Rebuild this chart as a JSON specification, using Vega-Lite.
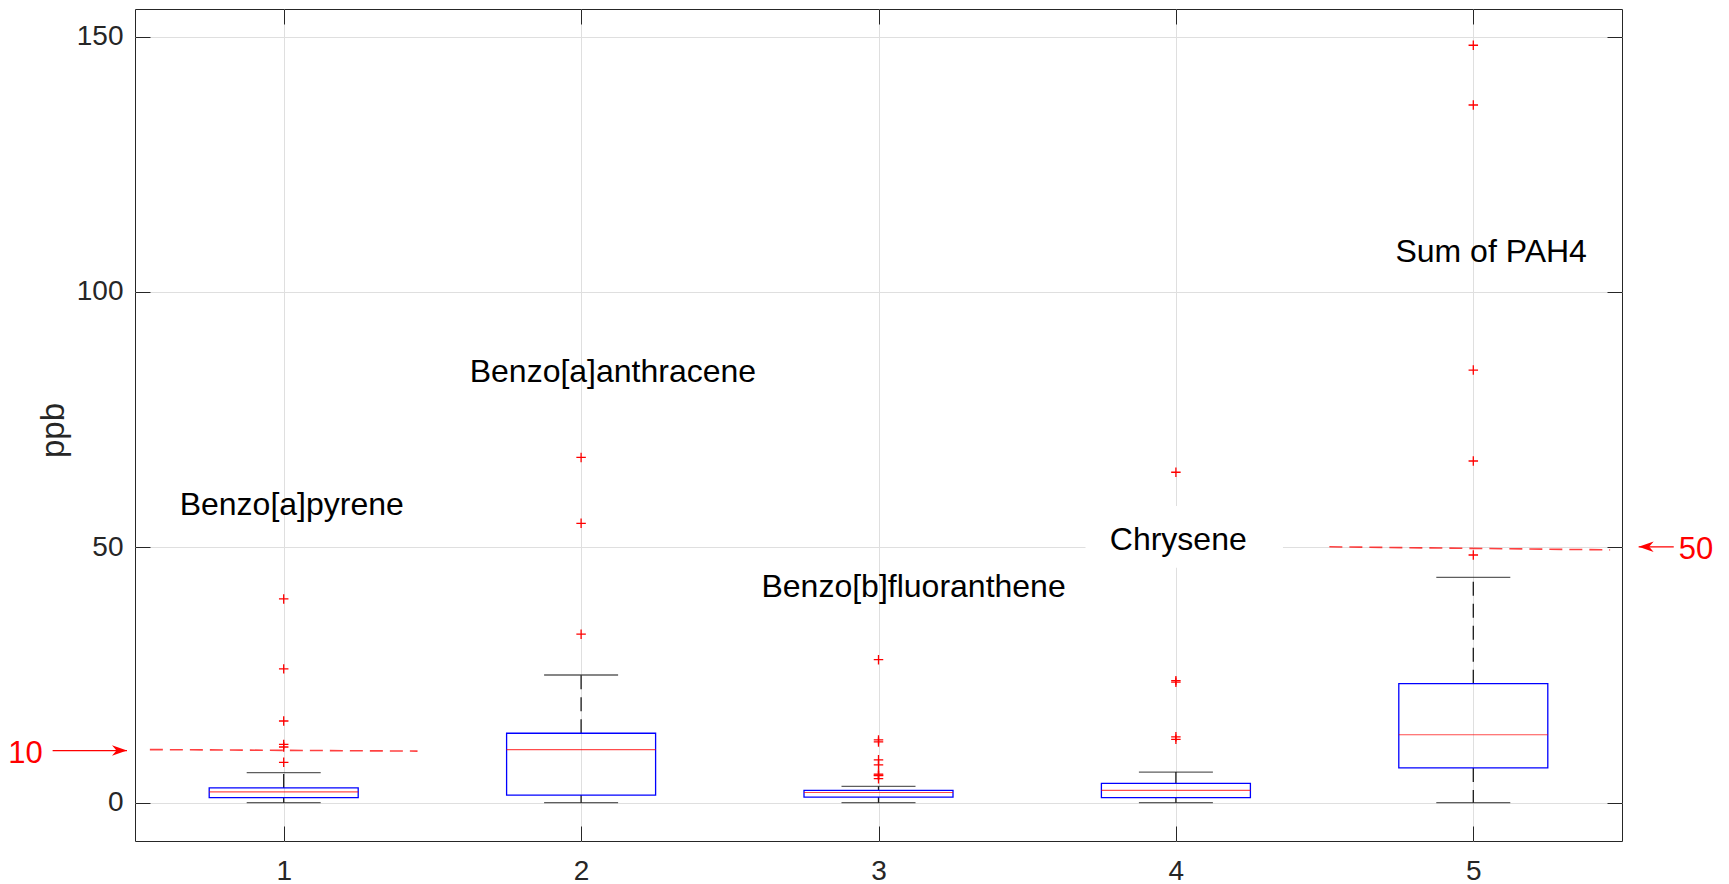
{
  "$schema": "https://vega.github.io/schema/vega-lite/v6.json",
  "width": 1487,
  "height": 832,
  "autosize": {"type": "none"},
  "padding": {"left": 135, "top": 9, "right": 107, "bottom": 43},
  "background": "white",
  "config": {
    "font": "Liberation Sans",
    "view": {"stroke": "#262626", "strokeWidth": 1},
    "axis": {
      "labelFont": "Liberation Sans",
      "titleFont": "Liberation Sans",
      "labelColor": "#262626",
      "titleColor": "#262626",
      "tickColor": "#262626",
      "gridColor": "#dfdfdf",
      "gridWidth": 1,
      "domain": false
    }
  },
  "datasets": {
    "boxes": [
      {"pos": 1, "lower": 0, "q1": 1.0, "median": 2.1, "q3": 2.9, "upper": 5.9},
      {"pos": 2, "lower": 0, "q1": 1.5, "median": 10.4, "q3": 13.6, "upper": 25.0},
      {"pos": 3, "lower": 0, "q1": 1.1, "median": 2.0, "q3": 2.4, "upper": 3.2},
      {"pos": 4, "lower": 0, "q1": 1.0, "median": 2.4, "q3": 3.8, "upper": 6.0},
      {"pos": 5, "lower": 0, "q1": 6.8, "median": 13.3, "q3": 23.3, "upper": 44.1}
    ],
    "outliers": [
      {"pos": 1, "v": 39.9}, {"pos": 1, "v": 26.2}, {"pos": 1, "v": 16.0}, {"pos": 1, "v": 11.4}, {"pos": 1, "v": 10.9}, {"pos": 1, "v": 7.9},
      {"pos": 2, "v": 67.6}, {"pos": 2, "v": 54.7}, {"pos": 2, "v": 33.0},
      {"pos": 3, "v": 28.0}, {"pos": 3, "v": 12.3}, {"pos": 3, "v": 11.9}, {"pos": 3, "v": 8.4}, {"pos": 3, "v": 7.4}, {"pos": 3, "v": 5.6}, {"pos": 3, "v": 5.4}, {"pos": 3, "v": 5.3}, {"pos": 3, "v": 4.7},
      {"pos": 4, "v": 64.7}, {"pos": 4, "v": 23.9}, {"pos": 4, "v": 23.6}, {"pos": 4, "v": 12.9}, {"pos": 4, "v": 12.4},
      {"pos": 5, "v": 148.3}, {"pos": 5, "v": 136.6}, {"pos": 5, "v": 84.7}, {"pos": 5, "v": 66.9}, {"pos": 5, "v": 48.5}
    ],
    "limits": [
      {"x": 0.55, "x2": 1.45, "y": 10.4, "y2": 10.1},
      {"x": 4.516, "x2": 5.46, "y": 50.1, "y2": 49.5}
    ],
    "arrows": [
      {"label": "10", "tail": 0.223, "tip": 0.473, "y": 10.2, "tx": 0.132, "ty": 7.7},
      {"label": "50", "tail": 5.674, "tip": 5.556, "y": 50.1, "tx": 5.749, "ty": 47.7}
    ],
    "names": [
      {"text": "Benzo[a]pyrene", "x": 1.027, "y": 56.3},
      {"text": "Benzo[a]anthracene", "x": 2.107, "y": 82.3},
      {"text": "Benzo[b]fluoranthene", "x": 3.118, "y": 40.2},
      {"text": "Chrysene", "x": 4.008, "y": 49.5},
      {"text": "Sum of PAH4", "x": 5.06, "y": 105.8}
    ],
    "labelbg": [
      {"x": 3.696, "x2": 4.36, "y": 46.0, "y2": 58.1}
    ]
  },
  "resolve": {"axis": {"x": "independent", "y": "independent"}},
  "layer": [
    {
      "data": {"name": "boxes"},
      "mark": {"type": "rule", "color": "#1a1a1a", "strokeWidth": 1.3, "strokeDash": [14, 8]},
      "encoding": {
        "x": {
          "field": "pos", "type": "quantitative",
          "scale": {"domain": [0.5, 5.5], "nice": false, "zero": false, "padding": 0},
          "axis": {
            "orient": "bottom", "values": [1, 2, 3, 4, 5], "title": null,
            "grid": true, "tickSize": -15, "labelPadding": 31,
            "labelFontSize": 28, "labelAngle": 0
          }
        },
        "y": {
          "field": "q3", "type": "quantitative",
          "scale": {"domain": [-7.5, 155.4], "nice": false, "zero": false, "padding": 0},
          "axis": {
            "orient": "left", "values": [0, 50, 100, 150], "title": "ppb",
            "grid": true, "tickSize": -15, "labelPadding": 27,
            "labelFontSize": 28, "titleFontSize": 33, "titleFontWeight": "normal",
            "titleX": -82, "titleY": 421, "titleAngle": -90,
            "titleAlign": "center", "titleBaseline": "middle"
          }
        },
        "y2": {"field": "upper"}
      }
    },
    {
      "data": {"name": "boxes"},
      "mark": {"type": "rule", "color": "#1a1a1a", "strokeWidth": 1.3, "strokeDash": [14, 8]},
      "encoding": {
        "x": {"field": "pos", "type": "quantitative", "axis": null},
        "y": {"field": "q1", "type": "quantitative", "axis": null},
        "y2": {"field": "lower"}
      }
    },
    {
      "data": {"name": "labelbg"},
      "mark": {"type": "rect", "fill": "white", "stroke": null},
      "encoding": {
        "x": {"field": "x", "type": "quantitative", "axis": null},
        "x2": {"field": "x2"},
        "y": {"field": "y", "type": "quantitative", "axis": null},
        "y2": {"field": "y2"}
      }
    },
    {
      "data": {"name": "boxes"},
      "mark": {"type": "bar", "width": 149, "fill": "transparent", "stroke": "#0000ff", "strokeWidth": 1.3},
      "encoding": {
        "x": {"field": "pos", "type": "quantitative", "axis": null},
        "y": {"field": "q1", "type": "quantitative", "axis": null},
        "y2": {"field": "q3"}
      }
    },
    {
      "data": {"name": "boxes"},
      "mark": {"type": "tick", "orient": "horizontal", "size": 149, "thickness": 1.2, "color": "#ff0000"},
      "encoding": {
        "x": {"field": "pos", "type": "quantitative", "axis": null},
        "y": {"field": "median", "type": "quantitative", "axis": null}
      }
    },
    {
      "data": {"name": "boxes"},
      "mark": {"type": "tick", "orient": "horizontal", "size": 74, "thickness": 1.3, "color": "#1a1a1a"},
      "encoding": {
        "x": {"field": "pos", "type": "quantitative", "axis": null},
        "y": {"field": "upper", "type": "quantitative", "axis": null}
      }
    },
    {
      "data": {"name": "boxes"},
      "mark": {"type": "tick", "orient": "horizontal", "size": 74, "thickness": 1.3, "color": "#1a1a1a"},
      "encoding": {
        "x": {"field": "pos", "type": "quantitative", "axis": null},
        "y": {"field": "lower", "type": "quantitative", "axis": null}
      }
    },
    {
      "data": {"name": "outliers"},
      "mark": {"type": "point", "shape": "M-1,0H1M0,-1V1", "size": 90, "filled": false, "stroke": "#ff0000", "strokeWidth": 1.3, "opacity": 1},
      "encoding": {
        "x": {
          "field": "pos", "type": "quantitative",
          "axis": {"orient": "top", "values": [1, 2, 3, 4, 5], "labels": false, "grid": false, "tickSize": -15, "title": null}
        },
        "y": {
          "field": "v", "type": "quantitative",
          "axis": {"orient": "right", "values": [0, 50, 100, 150], "labels": false, "grid": false, "tickSize": -15, "title": null}
        }
      }
    },
    {
      "data": {"name": "limits"},
      "mark": {"type": "rule", "color": "#ff0000", "opacity": 0.75, "strokeWidth": 1.6, "strokeDash": [13, 7]},
      "encoding": {
        "x": {"field": "x", "type": "quantitative", "axis": null},
        "x2": {"field": "x2"},
        "y": {"field": "y", "type": "quantitative", "axis": null},
        "y2": {"field": "y2"}
      }
    },
    {
      "data": {"name": "arrows"},
      "mark": {"type": "rule", "color": "#ff0000", "strokeWidth": 1.3},
      "encoding": {
        "x": {"field": "tail", "type": "quantitative", "axis": null},
        "x2": {"field": "tip"},
        "y": {"field": "y", "type": "quantitative", "axis": null}
      }
    },
    {
      "data": {"name": "arrows"},
      "mark": {"type": "point", "filled": true, "color": "#ff0000", "size": 225, "opacity": 1, "strokeWidth": 0},
      "encoding": {
        "x": {"field": "tip", "type": "quantitative", "axis": null},
        "y": {"field": "y", "type": "quantitative", "axis": null},
        "shape": {
          "condition": {"test": "datum.label === '10'", "value": "M0,0L-2,-0.7L-1.4,0L-2,0.7Z"},
          "value": "M0,0L2,-0.7L1.4,0L2,0.7Z"
        }
      }
    },
    {
      "data": {"name": "arrows"},
      "mark": {"type": "text", "color": "#ff0000", "fontSize": 31, "align": "center", "baseline": "alphabetic", "font": "Liberation Sans"},
      "encoding": {
        "x": {"field": "tx", "type": "quantitative", "axis": null},
        "y": {"field": "ty", "type": "quantitative", "axis": null},
        "text": {"field": "label"}
      }
    },
    {
      "data": {"name": "names"},
      "mark": {"type": "text", "color": "#000000", "fontSize": 32, "align": "center", "baseline": "alphabetic", "font": "Liberation Sans"},
      "encoding": {
        "x": {"field": "x", "type": "quantitative", "axis": null},
        "y": {"field": "y", "type": "quantitative", "axis": null},
        "text": {"field": "text"}
      }
    }
  ]
}
